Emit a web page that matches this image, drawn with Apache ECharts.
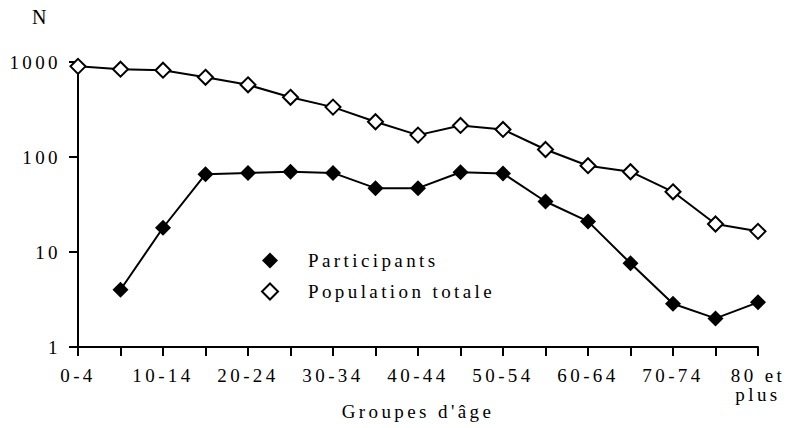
<!DOCTYPE html>
<html>
<head>
<meta charset="utf-8">
<script src="https://cdn.jsdelivr.net/npm/echarts@6/dist/echarts.min.js"></script>
<style>
html,body{margin:0;padding:0;background:#fff;}
#main{width:791px;height:428px;}
#main text{letter-spacing:3.4px;}
</style>
</head>
<body>
<div id="main"></div>
<script>
var categories = ['0-4','5-9','10-14','15-19','20-24','25-29','30-34','35-39','40-44','45-49','50-54','55-59','60-64','65-69','70-74','75-79','80 et\nplus'];
var participants = [null, 4, 18, 66, 68, 70, 68, 47, 47, 69, 67, 34, 21, 7.6, 2.85, 2, 2.95];
var population = [900, 840, 820, 690, 575, 425, 335, 235, 170, 215, 195, 120, 81, 70, 43, 19.7, 16.5];
var yTicks = [1, 10, 100, 1000];

var font = '"Liberation Serif", "Times New Roman", serif';
var chart = echarts.init(document.getElementById('main'), null, {renderer: 'svg'});
chart.setOption({
  animation: false,
  backgroundColor: '#fff',
  title: {
    text: 'N', left: 27, top: 2,
    textStyle: {fontFamily: font, fontSize: 20, fontWeight: 'normal', color: '#000'}
  },
  grid: {left: 78, right: 33, top: 62, bottom: 81, containLabel: false, outerBoundsMode: 'none'},
  legend: {
    orient: 'vertical', left: 256, top: 246, itemGap: 12,
    itemWidth: 16, itemHeight: 16,
    textStyle: {fontFamily: font, fontSize: 19, color: '#000', padding: [0, 0, 0, 25]},
    data: [
      {name: 'Participants', icon: 'diamond', itemStyle: {color: '#000', borderWidth: 0}},
      {name: 'Population totale', icon: 'diamond', itemStyle: {color: '#fff', borderColor: '#000', borderWidth: 2}}
    ]
  },
  xAxis: {
    type: 'category', data: categories, boundaryGap: false,
    name: "Groupes d'âge", nameLocation: 'middle', nameGap: 55, nameMoveOverlap: false,
    nameTextStyle: {fontFamily: font, fontSize: 19, color: '#000'},
    axisLine: {lineStyle: {color: '#000', width: 2}},
    axisTick: {interval: 0, length: 9, lineStyle: {color: '#000', width: 2}},
    axisLabel: {interval: 1, fontFamily: font, fontSize: 19, color: '#000', margin: 19, lineHeight: 19},
    splitLine: {show: false}
  },
  yAxis: {
    type: 'log', logBase: 10, min: 1, max: 1000,
    axisLine: {show: true, lineStyle: {color: '#000', width: 2}},
    axisTick: {show: true, length: 9, lineStyle: {color: '#000', width: 2}},
    axisLabel: {fontFamily: font, fontSize: 19, color: '#000', margin: 17,
      formatter: function (v) { return yTicks.indexOf(Math.round(v)) >= 0 ? String(Math.round(v)) : ''; }},
    splitLine: {show: false}
  },
  series: [
    {
      name: 'Participants', type: 'line', data: participants,
      symbol: 'diamond', symbolSize: 16, showAllSymbol: true,
      lineStyle: {color: '#000', width: 2},
      itemStyle: {color: '#000', borderWidth: 0}
    },
    {
      name: 'Population totale', type: 'line', data: population,
      symbol: 'diamond', symbolSize: 15, showAllSymbol: true,
      lineStyle: {color: '#000', width: 2},
      itemStyle: {color: '#fff', borderColor: '#000', borderWidth: 2}
    }
  ]
});
</script>
</body>
</html>
